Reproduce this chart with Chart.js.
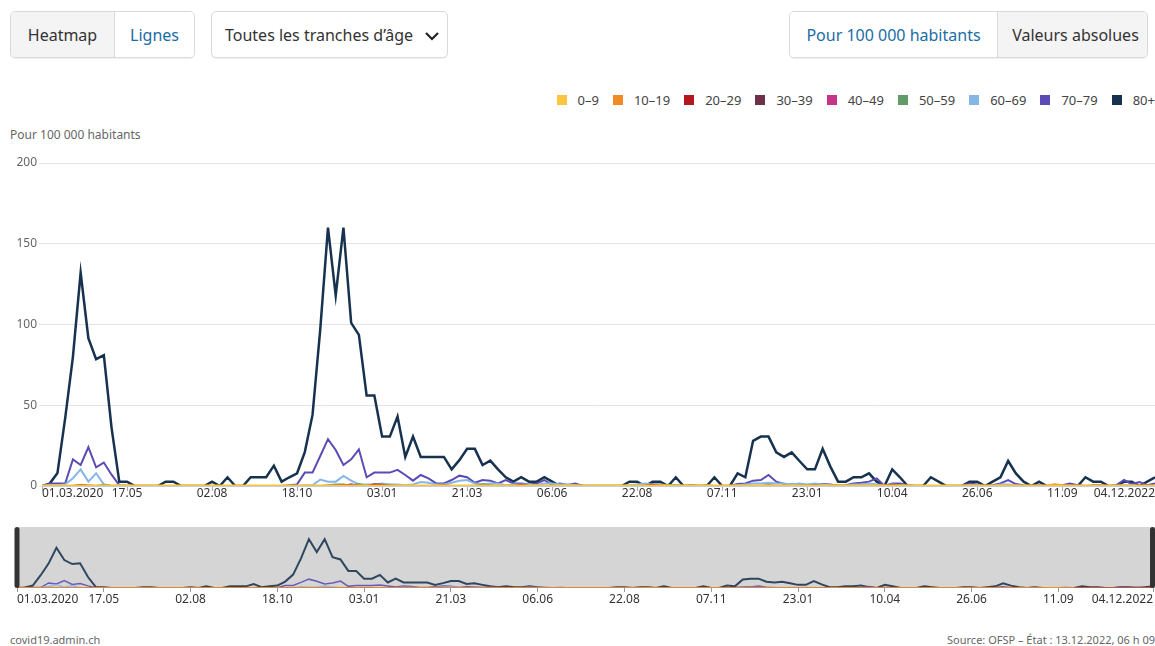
<!DOCTYPE html>
<html><head><meta charset="utf-8">
<script src="https://cdn.jsdelivr.net/npm/chart.js@4.4.1/dist/chart.umd.min.js"></script>
<style>
html,body{margin:0;padding:0;background:#fff}
body{width:1155px;height:646px;position:relative;overflow:hidden;font-family:"Noto Sans",sans-serif;color:#333}
.grp{position:absolute;top:11px;height:45px;border:1px solid #d9d9d9;border-radius:5px;display:flex;overflow:hidden;box-shadow:0 1px 1px rgba(0,0,0,.06);background:#fff}
.grp div{display:flex;align-items:center;justify-content:center;font-size:16px;height:100%;box-sizing:border-box}
.off{background:#f4f4f4;color:#333}
.on{background:#fff;color:#1a6da5}
.sep{border-right:1px solid #dcdcdc}
#legend{position:absolute;top:91px;right:0;display:flex;align-items:center;font-size:13px;color:#444}
#legend .it{display:flex;align-items:center;margin-left:14px}
#legend .sq{width:10px;height:10px;margin-right:11px}
.ytitle{position:absolute;left:10px;top:126px;font-size:12px;color:#666}
.foot{position:absolute;top:632px;font-size:11px;color:#666}
canvas{position:absolute;left:0}
</style></head>
<body>
<div class="grp" style="left:10px;width:183px">
  <div class="off sep" style="width:104px">Heatmap</div>
  <div class="on" style="width:79px">Lignes</div>
</div>
<div class="grp" style="left:211px;width:235px">
  <div style="width:100%;justify-content:flex-start;padding-left:13px;color:#333">Toutes les tranches d’âge
    <svg width="16" height="10" style="position:absolute;left:212px;top:19px"><polyline points="2,2 8,8 14,2" fill="none" stroke="#222" stroke-width="2.2"/></svg>
  </div>
</div>
<div class="grp" style="left:789px;width:357px">
  <div class="on sep" style="width:208px">Pour 100 000 habitants</div>
  <div class="off" style="width:149px;padding-left:6px">Valeurs absolues</div>
</div>
<div id="legend"></div>
<div class="ytitle">Pour 100 000 habitants</div>
<canvas id="main" width="1155" height="360" style="top:150px"></canvas>
<canvas id="mini" width="1155" height="100" style="top:515px"></canvas>
<div class="foot" style="left:10px">covid19.admin.ch</div>
<div class="foot" style="right:0">Source: OFSP – État : 13.12.2022, 06 h 09</div>
<script>
const tickWeeks = [0,11,22,33,44,55,66,77,88,99,110,121,132,144];
const tickLabels = ["01.03.2020","17.05","02.08","18.10","03.01","21.03","06.06","22.08","07.11","23.01","10.04","26.06","11.09","04.12.2022"];
const seriesNames = ["0–9","10–19","20–29","30–39","40–49","50–59","60–69","70–79","80+"];
const seriesColors = ["#fbc53f","#f28a26","#b3171d","#6e3049","#c8338a","#5f9c68","#86b6e6","#5a4bb5","#17324f"];

const s0_9 = [
0,0,0,0,0,0,0,0,0,0, 0,0,0,0,0,0,0,0,0,0, 0,0,0,0,0,0,0,0,0,0, 0,0,0,0,0,0,0,0,0,0,
0,0,0,0,0,0,0,0,0,0, 0,0,0,0,0,0,0,0,0,0, 0,0,0,0,0,0,0,0,0,0, 0,0,0,0,0,0,0,0,0,0,
0,0,0,0,0,0,0,0,0,0, 0,0,0,0,0,0,0,0,0,0, 0,0,0,0,0,0,0,0,0,0, 0,0,0,0,0,0,0,0,0,0,
0,0,0,0,0,0,0,0,0,0, 0,0,0,0,0,0,0,0,0,0, 0,0,0,0,0];
const s10_19 = [
0,0,0,0,0,0,0,0,0,0, 0,0,0,0,0,0,0,0,0,0, 0,0,0,0,0,0,0,0,0,0, 0,0,0,0,0,0,0,0,0,0,
0,0,0,0,0,0,0,0,0,0, 0,0,0,0,0,0,0,0,0,0, 0,0,0,0,0,0,0,0,0,0, 0,0,0,0,0,0,0,0,0,0,
0.5,0,0,0,0,0,0,0,0,0, 0,0,0,0,0,0,0,0,0,0, 0,0,0,0,0,0,0,0,0,0, 0,0,0,0,0,0,0,0,0,0,
0,0,0,0,0,0,0,0,0,0, 0,1,0.5,0,0];
const s20_29 = [
0,0,0,0,0,0.5,0,0,0,0, 0,0,0,0,0,0,0,0,0,0, 0,0,0,0,0,0,0,0,0,0, 0,0,0,0,0,0,0,0,0,0.5,
0,0,0,1,0.8,0,0,0,0,0, 0,0,0,0,0,0,0,0,0,0, 0,0,0.6,0,0,0,0,0,0,0, 0,0,0,0,0,0,0,0,0,0.8,
0,0,0,0,0,0,0,0,0,0, 0,0,0,0,0.5,0,0,0,0,0, 0,0,0,0,0,0,0,0,0,0, 0.6,0,0,0,0,0,0,0,0,0,
0,0,0,0,0,0,0,0,0,0, 0,0,0,0,0,0,0,0,0,0, 0,0,0,0,0];
const s30_39 = [
0,0,0,0,0,0.5,0.3,0,0,0, 0,0,0,0,0,0,0,0,0,0, 0,0,0,0,0,0,0,0,0,0, 0,0,0,0,0,0,0,0,0,0,
0.5,0,0,0,0,0,0,0,0,0, 0,0,0,0,0,0,0,0,0,0, 0,0,0,0,0,0,0,0,0,0, 0,0,0,0,0,0,0,0,0,0,
0,0,0,0,0,0,0,0,0,0, 0,0,0,0,0,0,0,0,0,0, 0,0,0,0,0,0,0,0,0,0, 0,0,0,0,0,0,0,0,0,0,
0,0,0,0,0,0,0,0,0,0, 0,0,0,0,0,0,0,0,0,0, 0,0,0,0,0];
const s40_49 = [
0,0,0,0,0,0,0,0,0,0, 0,0,0,0,0,0,0,0,0,0, 0,0,0,0,0,0,0,0,0,0, 0,0,0,0,0,0,0,0,0.5,0,
1,0,0,0,0.5,0,0,0,0,0, 0,0,0.5,0,0,0,0,0,0,0, 0,0,0.5,0,0,0,0,0,0,0, 0,0,0,0,0,0,0,0,0,0.8,
0,0,0,0,0,0,0,0,0,0, 0,0,0,0,0,0,0,0,0,0, 0.5,0,0,0,0,0,0,0,0,0.5, 0,0,0,0,0,0,0,0,0,0,
0,0,0,0,0,0,0,0,0,0, 0,0,0,0,0,0,0,0,0,0, 0,0,0,0,0];
const s50_59 = [
0,0,0,0,0,0,0,0,0.8,0, 0,0,0,0,0,0,0,0,0,0, 0,0,0,0,0,0,0,0,0,0, 0,0,0,0,0,0,0,0.5,1,1,
0,1.2,0,1,0,0.8,0,0,0,0, 0,0,0,0,0,0,0,1,0.5,0, 0,0,0,0,0,0,0,0,0,0, 0,0,0,0,0,0,0,0,0,0,
0,0.8,0,0,0,0,0.5,0,0,0, 0,0,0,0,0,0,0,0,0,0.5, 0,0,0,0.5,0,0,0,0,0,0, 0,0.8,0,0,0,0,0,0,0,0,
0,0,0,0,0,0,0,0,0,0, 0,0,0,0,0,0,0,0,0,0, 0,0,0,0,0];
const s60_69 = [
0,0.5,0.5,1,4.8,10.3,2.7,7.9,1,0, 0.5,0.5,0,0,0,0,0,0,0,0, 0,0,0,0,0,0,0,0,0,0, 0,0,0,0,0.5,0.5,4,2.7,2.7,6.2,
3.3,1,1,1,1.6,1,1,0.5,1,2.5, 2,1,1,2,3.3,3.7,1.5,1,1.5,1.5, 0.5,1,1,1,0.5,1.5,1.5,1,1,0.5, 0,0,0,0,0,0,0.5,1,1.5,1,
1,0.5,0.5,0,0,0,0,0,0,0, 0.5,1,1.5,1.5,2,1.6,1.6,1,1.6,1, 1.6,1,0.5,0,0,1,1,1.6,1,0.5, 1,0.5,0,0,0,0,0,0,0,0,
0.5,0.5,0,0,1,1,0.5,0,0,0, 0,0,0,0,0,0,0,0,0,0, 0.5,0.5,0,0,0];
const s70_79 = [
0,1.5,1.5,1.5,16.5,13,24,11.6,14.5,7, 0.5,0,0,0,0,0,0,0,0,0, 0,0,0,0,0,0,0,0,0,0, 0,0,0.5,1,8.3,8.3,18.6,29,22.3,13,
16.5,22.7,5.4,8.3,8.3,8.3,10,6.8,3.3,6.8, 4.7,1.6,1.6,3.7,6.4,5.4,2,3.7,3.3,1.6, 3.7,1.6,1.6,1,1.6,3.7,0.6,1.6,0.6,1.6, 0,0,0,0,0,0,0,0.5,0,1,
1,0,0.5,0,0.5,0,0,0,0,0, 1.2,1.6,3.3,3.7,6.8,2.7,1.2,1,1,0.5, 1,1.2,1,0,0.5,1.6,2,2.7,4.7,0, 1.6,1.6,0.5,0,0,0,0,0,0,0,
1.6,1,0,0.5,1.6,3.7,1.2,0.5,0,0.5, 0,0,0.5,1.6,0.5,0,0.5,0.5,0,0.5, 3.7,1.2,2.5,0.5,1.6];
const s80plus = [
0,1.5,8,42,80,132,91.5,78.5,81,36, 2.7,2.7,0,0,0,0,2.7,2.7,0,0, 0,0,2.7,0,5.4,0,0,5.4,5.4,5.4, 12.6,2.7,5.4,7.9,21,44,97,160,118,160,
101,93.6,56,56,30.6,30.6,43,18,30.6,18, 18,18,18,10.3,16,23,23,13,15.7,10.3, 5.4,2.7,5.4,2.7,2.7,5.4,2.7,0,0,0, 0,0,0,0,0,0,2.7,2.7,0,2.7,
2.7,0,5.4,0,0,0,0,5.4,0,0, 7.8,5.4,28,30.6,30.6,20.8,18,20.8,15.5,10.3, 10.3,23,12,2.7,2.7,5.4,5.4,7.8,2.7,0, 10.3,5.4,0,0,0,5.4,2.7,0,0,0,
2.7,2.7,0,2.7,5.4,15.5,7.8,2.7,0,2.7, 0,0,0,0,0,5.4,2.7,2.7,0,0, 2.7,2.7,0,2.7,5.4];

const seriesValues = [s0_9,s10_19,s20_29,s30_39,s40_49,s50_59,s60_69,s70_79,s80plus];

// HTML legend from series names/colours
const lg = document.getElementById('legend');
seriesNames.forEach((n,k)=>{
  const it=document.createElement('div'); it.className='it';
  it.innerHTML='<span class="sq" style="background:'+seriesColors[k]+'"></span><span>'+n+'</span>';
  lg.appendChild(it);
});

Chart.defaults.font.family='"Noto Sans", sans-serif';

function hexA(h,a){const r=parseInt(h.substr(1,2),16),g=parseInt(h.substr(3,2),16),b=parseInt(h.substr(5,2),16);return 'rgba('+r+','+g+','+b+','+a+')';}

function xLabels(offsetY,size){
  return {id:'xlabels',afterDraw(chart){
    const sc=chart.scales.x,ctx=chart.ctx;
    ctx.save();ctx.font=size+'px "Noto Sans", sans-serif';ctx.fillStyle='#333';ctx.textBaseline='middle';
    tickWeeks.forEach((w,k)=>{
      const px=sc.getPixelForValue(w);
      ctx.textAlign=k===0?'left':(k===tickWeeks.length-1?'right':'center');
      ctx.fillText(tickLabels[k],px,sc.top+offsetY);
    });
    ctx.restore();
  }};
}

function makeDatasets(mini){
  return seriesValues.map((vals,k)=>({
    label:seriesNames[k],
    data:vals.map((v,i)=>({x:i,y:v})),
    borderColor: mini ? (k===0?hexA(seriesColors[k],0.45):hexA(seriesColors[k],0.88)) : seriesColors[k],
    borderWidth: mini ? (k===8?2:1.5) : (k===8?2.5:(k===0?3:2)),
    pointRadius:0,tension:0,fill:false
  }));
}

const xTicksHook = sc=>{sc.ticks=tickWeeks.map(v=>({value:v}));};

new Chart(document.getElementById('main'),{
  type:'line',
  data:{datasets:makeDatasets(false)},
  options:{
    responsive:false,animation:false,
    layout:{padding:{top:13,left:0,right:0,bottom:0}},
    plugins:{legend:{display:false},tooltip:{enabled:false}},
    scales:{
      x:{type:'linear',min:0,max:144,afterBuildTicks:xTicksHook,afterFit:sc=>{sc.height=24;},
         grid:{drawOnChartArea:false,drawTicks:true,tickLength:5,color:'#aaa'},
         border:{display:true,color:'#ccc'},ticks:{display:false}},
      y:{min:0,max:200,afterFit:sc=>{sc.width=42;},
         ticks:{stepSize:50,color:'#666',font:{size:12},padding:2},
         grid:{color:'#e3e3e3',drawTicks:true,tickLength:3},border:{display:false}}
    }
  },
  plugins:[xLabels(8,12)]
});

const miniDecor={id:'miniDecor',
  beforeDraw(chart){const a=chart.chartArea,ctx=chart.ctx;ctx.save();ctx.fillStyle='#d5d5d5';ctx.fillRect(a.left,a.top,chart.width-a.left,a.bottom-a.top);ctx.restore();},
  afterDraw(chart){const a=chart.chartArea,ctx=chart.ctx;ctx.save();ctx.fillStyle='#333';
    [a.left,chart.width-2.5].forEach(cx=>{ctx.beginPath();ctx.roundRect(cx-2.5,a.top,5,a.bottom-a.top,2.5);ctx.fill();});
    ctx.restore();}
};

new Chart(document.getElementById('mini'),{
  type:'line',
  data:{datasets:makeDatasets(true)},
  options:{
    responsive:false,animation:false,
    layout:{padding:{top:12,left:17,right:2,bottom:0}},
    plugins:{legend:{display:false},tooltip:{enabled:false}},
    scales:{
      x:{type:'linear',min:0,max:144,afterBuildTicks:xTicksHook,afterFit:sc=>{sc.height=27;},
         grid:{drawOnChartArea:false,drawTicks:true,tickLength:4,color:'#999'},
         border:{display:false},ticks:{display:false}},
      y:{display:false,min:0,max:200}
    }
  },
  plugins:[miniDecor,xLabels(12,12)]
});
</script>
</body></html>
